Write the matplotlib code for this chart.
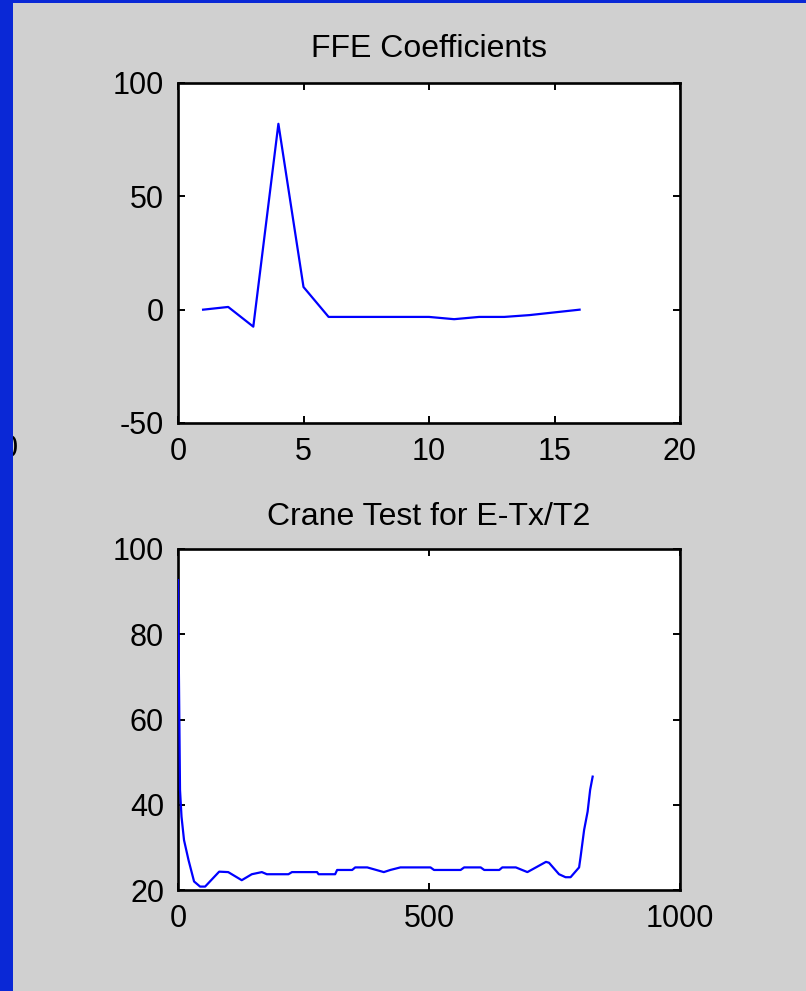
import numpy as np
import matplotlib
matplotlib.use("Agg")
import matplotlib.pyplot as plt
from matplotlib.patches import Rectangle

# FFE coefficients (tap index 1..16)
ffe_taps = [1, 2, 3, 4, 5, 6, 7, 8, 9, 10, 11, 12, 13, 14, 15, 16]
ffe_vals = [0, 1.2, -7.5, 82, 10, -3.2, -3.2, -3.2, -3.2, -3.2, -4.2, -3.2, -3.2, -2.4, -1.2, 0]

# Crane test curve
crane_x = [0, 4, 7, 12, 21, 32, 44, 54, 82, 100, 127, 147, 167, 177, 220, 227, 277, 280,
           313, 317, 347, 353, 377, 410, 423, 443, 503, 510, 563, 570, 603, 610, 640, 646,
           673, 696, 713, 733, 739, 759, 772, 782, 799, 802, 809, 816, 821, 826]
crane_y = [92.7, 43.5, 37.2, 31.7, 27, 22, 20.8, 20.8, 24.3, 24.2, 22.3, 23.7, 24.2, 23.7,
           23.7, 24.2, 24.2, 23.7, 23.7, 24.7, 24.7, 25.3, 25.3, 24.2, 24.7, 25.3, 25.3, 24.7,
           24.7, 25.3, 25.3, 24.7, 24.7, 25.3, 25.3, 24.2, 25.3, 26.6, 26.4, 23.7, 23.0, 23.0,
           25.3, 27.8, 34.1, 38.4, 43.5, 46.6]

plt.rcParams['font.family'] = ['Liberation Sans', 'DejaVu Sans']
plt.rcParams['axes.unicode_minus'] = False

W, H = 806, 991
fig = plt.figure(figsize=(W / 100, H / 100), dpi=100)
fig.patch.set_facecolor('#d0d0d0')

def box(l, t, r, b):
    return [l / W, 1 - b / H, (r - l) / W, (b - t) / H]

def style(ax):
    ax.set_facecolor('white')
    for s in ax.spines.values():
        s.set_linewidth(1.9)
        s.set_color('black')
    ax.tick_params(direction='in', length=5, width=1.4, top=True, right=True,
                   labelsize=22, pad=10, colors='black')

ax1 = fig.add_axes(box(178, 83, 680, 423))
ax1.plot(ffe_taps, ffe_vals, color='#0000ff', lw=1.6)
ax1.set_xlim(0, 20)
ax1.set_ylim(-50, 100)
ax1.set_xticks([0, 5, 10, 15, 20])
ax1.set_yticks([-50, 0, 50, 100])
ax1.set_title('FFE Coefficients', fontsize=23, pad=19)
style(ax1)

ax2 = fig.add_axes(box(178, 549, 680, 890))
ax2.plot(crane_x, crane_y, color='#0000ff', lw=1.6, zorder=3)
ax2.set_xlim(0, 1000)
ax2.set_ylim(20, 100)
ax2.set_xticks([0, 500, 1000])
ax2.set_yticks([20, 40, 60, 80, 100])
ax2.set_title('Crane Test for E-Tx/T2', fontsize=23, pad=17)
style(ax2)

# clipped label peeking out from behind the slide border
fig.text(9 / W, 1 - 449 / H, '0', fontsize=22, ha='center', va='center', zorder=5)

# blue slide border
fig.patches.append(Rectangle((0, 0), 13 / W, 1, transform=fig.transFigure,
                             facecolor='#0a28d6', edgecolor='none', zorder=10))
fig.patches.append(Rectangle((0, 1 - 3 / H), 1, 3 / H, transform=fig.transFigure,
                             facecolor='#0a28d6', edgecolor='none', zorder=10))

fig.savefig('out.png', dpi=100, facecolor=fig.get_facecolor())
